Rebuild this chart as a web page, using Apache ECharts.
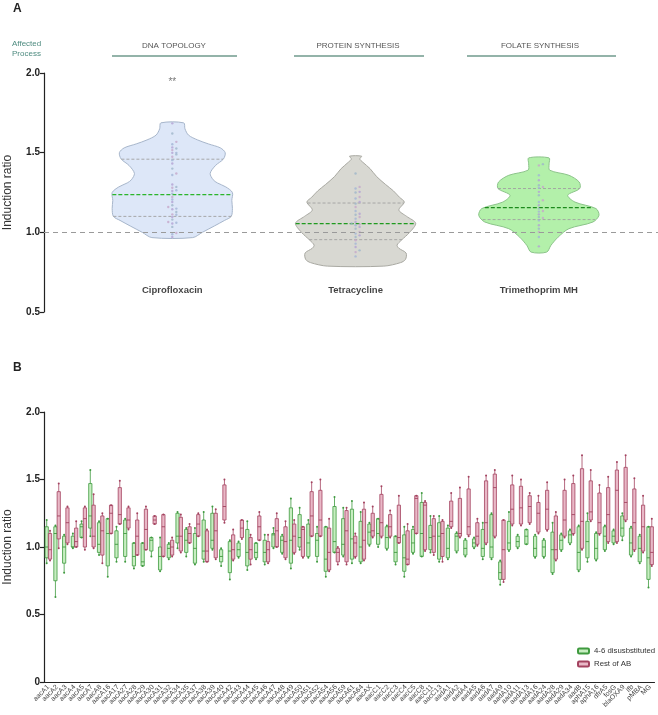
<!DOCTYPE html>
<html><head><meta charset="utf-8">
<script src="https://cdn.jsdelivr.net/npm/echarts@6/dist/echarts.min.js"></script>
<style>html,body{margin:0;padding:0;background:#fff}#c{width:658px;height:715px}</style>
</head><body><div id="c"></div>
<script>
// ---------- Panel A data ----------
const violinNames = ['Ciprofloxacin', 'Tetracycline', 'Trimethoprim MH'];
const processNames = ['DNA TOPOLOGY', 'PROTEIN SYNTHESIS', 'FOLATE SYNTHESIS'];
const significance = ['**', '', ''];
// [lower quartile, median, upper quartile]
const violinQuartiles = [[1.10, 1.237, 1.459], [0.954, 1.055, 1.184], [1.08, 1.155, 1.275]];
// density profiles: [value, relative density]
const ciproDensity = [[0.967,0.34],[1.0,0.5],[1.04,0.7],[1.075,0.87],[1.1,0.98],[1.15,1.0],[1.2,0.99],[1.25,1.0],[1.285,0.89],[1.31,0.75],[1.33,0.68],[1.37,0.63],[1.42,0.72],[1.46,0.85],[1.5,0.88],[1.53,0.8],[1.555,0.6],[1.58,0.42],[1.61,0.27],[1.65,0.21],[1.687,0.19]];
const tetraDensity = [[0.788,0.47],[0.81,0.75],[0.83,0.83],[0.87,0.84],[0.9,0.72],[0.92,0.69],[0.95,0.76],[1.0,0.9],[1.057,1.0],[1.1,0.85],[1.14,0.72],[1.19,0.81],[1.22,0.73],[1.26,0.63],[1.3,0.5],[1.35,0.35],[1.4,0.24],[1.44,0.12],[1.46,0.07],[1.478,0.1]];
const trimDensity = [[0.876,0.13],[0.918,0.2],[0.97,0.32],[1.023,0.5],[1.065,0.9],[1.107,1.0],[1.149,0.95],[1.19,0.6],[1.233,0.48],[1.275,0.68],[1.316,0.67],[1.358,0.5],[1.39,0.18],[1.43,0.17],[1.467,0.17]];
const ciproPoints = [1.684,1.62,1.568,1.553,1.533,1.526,1.516,1.499,1.499,1.489,1.474,1.453,1.432,1.40,1.369,1.36,1.30,1.285,1.28,1.264,1.26,1.243,1.222,1.206,1.19,1.17,1.159,1.149,1.145,1.128,1.113,1.11,1.096,1.08,1.065,1.06,1.055,1.034,0.996,0.988,0.971];
const tetraPoints = [1.369,1.285,1.275,1.254,1.25,1.222,1.212,1.19,1.18,1.159,1.134,1.117,1.11,1.096,1.086,1.065,1.055,1.05,1.044,1.034,1.023,1.002,0.992,0.981,0.971,0.95,0.929,0.908,0.887,0.876,0.849];
const trimPoints = [1.428,1.42,1.358,1.327,1.296,1.285,1.28,1.254,1.233,1.201,1.19,1.17,1.149,1.134,1.13,1.113,1.096,1.09,1.075,1.044,1.023,1.002,0.971,0.912];

// ---------- Panel B data ----------
const categories = ['aacA1','aacA2','aacA3','aacA4','aacA5','aacA7','aacA8','aacA16','aacA17','aacA27','aacA28','aacA29','aacA30','aacA31','aacA32','aacA34','aacA35','aacA37','aacA38','aacA39','aacA40','aacA42','aacA43','aacA44','aacA45','aacA46','aacA47','aacA48','aacA49','aacA50','aacA51','aacA52','aacA54','aacA56','aacA59','aacA61','aacA64','aacAX','aacC1','aacC2','aacC3','aacC4','aacC5','aacC8','aacC11','aacC13','aadA1','aadA2','aadA4','aadA5','aadA6','aadA7','aadA9','aadA10','aadA11','aadA13','aadA16','aadA24','aadA28','aadA29','aadA34','aadB','aphA15','aphA16','dfrA5','fosG','blaOXA9','lfb','pMBA','MG'];
const seriesNames = ['4-6 disusbstituted', 'Rest of AB'];
// [min, q1, median, q3, max]
const greenBoxes = [
[0.88,0.92,1.0,1.15,1.2],[0.63,0.75,1.1,1.15,1.16],[0.81,0.88,1.0,1.08,1.09],[0.99,1.0,1.0,1.08,1.1],[1.07,1.07,1.15,1.17,1.19],
[1.08,1.14,1.23,1.47,1.57],[0.94,0.96,1.02,1.18,1.19],[0.78,0.86,1.1,1.21,1.21],[0.89,0.92,1.02,1.12,1.15],[0.89,0.93,1.1,1.2,1.21],
[0.84,0.86,0.93,1.03,1.03],[0.86,0.86,0.89,1.03,1.03],[0.93,0.97,1.05,1.07,1.07],[0.82,0.83,0.93,1.0,1.07],[0.91,0.92,0.99,1.02,1.03],
[0.99,1.03,1.08,1.25,1.26],[0.93,0.96,1.05,1.13,1.14],[0.87,0.88,0.99,1.1,1.14],[0.89,0.91,0.97,1.2,1.26],[0.98,0.99,1.05,1.25,1.3],
[0.86,0.89,0.93,0.98,0.99],[0.76,0.81,0.97,1.04,1.05],[0.92,0.93,0.98,1.03,1.04],[0.83,0.86,0.96,1.13,1.19],[0.91,0.92,0.96,1.03,1.03],
[0.87,0.89,0.96,1.05,1.09],[0.99,1.0,1.09,1.1,1.14],[0.95,0.96,1.05,1.08,1.09],[0.84,0.88,1.05,1.29,1.36],[0.98,1.0,1.07,1.24,1.29],
[0.92,0.93,1.03,1.17,1.2],[0.89,0.93,1.05,1.1,1.15],[0.78,0.82,0.91,1.15,1.15],[0.96,0.96,1.04,1.3,1.37],[0.93,0.94,1.02,1.21,1.29],
[0.88,0.91,1.06,1.28,1.34],[0.88,0.89,1.0,1.19,1.26],[1.01,1.02,1.11,1.17,1.18],[1.0,1.02,1.1,1.21,1.21],[0.98,0.99,1.07,1.15,1.16],
[0.87,0.89,0.96,1.08,1.08],[0.78,0.82,0.92,1.09,1.15],[0.95,0.96,1.03,1.13,1.15],[0.93,0.93,1.1,1.33,1.4],[0.96,0.98,1.07,1.16,1.23],
[0.89,0.91,1.08,1.18,1.23],[0.91,0.92,0.99,1.14,1.16],[0.96,0.97,1.08,1.1,1.11],[0.93,0.94,0.99,1.05,1.06],[0.99,1.0,1.03,1.06,1.07],
[0.91,0.93,0.99,1.13,1.18],[0.91,0.92,1.0,1.24,1.25],[0.72,0.76,0.81,0.89,0.9],[0.97,0.98,1.03,1.19,1.26],[0.99,1.0,1.04,1.08,1.09],
[1.02,1.02,1.08,1.13,1.13],[0.92,0.93,0.99,1.08,1.09],[0.92,0.93,1.0,1.05,1.06],[0.8,0.81,0.98,1.11,1.18],[0.97,0.98,1.05,1.09,1.1],
[1.02,1.03,1.09,1.12,1.13],[0.82,0.83,0.96,1.15,1.16],[0.89,0.92,1.04,1.19,1.25],[0.9,0.91,0.99,1.1,1.11],[0.97,0.98,1.08,1.15,1.16],
[1.02,1.03,1.08,1.12,1.13],[1.05,1.08,1.14,1.23,1.25],[0.93,0.94,1.03,1.14,1.15],[0.88,0.89,0.99,1.08,1.09],[0.7,0.76,0.92,1.15,1.15]];
const pinkBoxes = [
[0.9,0.91,0.98,1.1,1.12],[0.99,1.06,1.23,1.41,1.47],[1.02,1.03,1.18,1.29,1.3],[1.0,1.0,1.04,1.14,1.19],[0.98,1.0,1.21,1.29,1.3],
[0.99,1.0,1.08,1.31,1.39],[0.88,0.94,1.12,1.23,1.25],[1.1,1.1,1.25,1.31,1.31],[1.17,1.17,1.24,1.44,1.49],[1.13,1.14,1.2,1.29,1.3],
[0.94,0.94,1.08,1.2,1.25],[0.98,0.98,1.13,1.28,1.3],[1.17,1.17,1.2,1.23,1.23],[0.93,0.93,1.15,1.24,1.24],[0.93,0.94,1.0,1.05,1.07],
[0.96,0.97,1.08,1.22,1.24],[1.03,1.03,1.1,1.15,1.17],[1.08,1.08,1.17,1.24,1.25],[0.89,0.89,0.97,1.12,1.13],[0.91,0.92,1.12,1.25,1.28],
[1.18,1.2,1.3,1.46,1.5],[0.9,0.91,0.98,1.09,1.13],[1.06,1.07,1.14,1.2,1.2],[0.87,0.91,0.98,1.07,1.09],[1.05,1.05,1.15,1.23,1.26],
[0.88,0.89,0.98,1.04,1.09],[1.0,1.0,1.12,1.21,1.25],[0.91,0.92,1.04,1.15,1.19],[0.95,0.96,1.08,1.17,1.2],[0.92,0.93,1.13,1.15,1.15],
[1.08,1.08,1.23,1.41,1.48],[1.08,1.08,1.2,1.42,1.5],[0.82,0.83,0.96,1.14,1.21],[0.87,0.89,0.96,0.99,1.0],[0.87,0.89,1.12,1.27,1.29],
[0.92,0.93,1.03,1.08,1.1],[0.9,0.91,1.05,1.28,1.33],[1.07,1.08,1.12,1.25,1.3],[1.07,1.08,1.18,1.39,1.45],[1.07,1.08,1.15,1.24,1.27],
[1.03,1.03,1.07,1.31,1.38],[0.87,0.87,0.91,1.12,1.17],[1.1,1.1,1.36,1.38,1.38],[0.97,0.98,1.31,1.33,1.34],[0.94,0.96,1.08,1.21,1.23],
[0.89,0.93,1.1,1.19,1.2],[1.14,1.15,1.19,1.34,1.4],[1.07,1.08,1.1,1.36,1.44],[1.08,1.09,1.15,1.43,1.52],[1.01,1.02,1.08,1.18,1.21],
[1.02,1.03,1.18,1.49,1.53],[1.07,1.08,1.44,1.54,1.57],[0.74,0.76,0.98,1.2,1.2],[1.16,1.17,1.28,1.46,1.53],[1.16,1.17,1.29,1.45,1.5],
[1.17,1.18,1.3,1.38,1.4],[1.1,1.11,1.25,1.33,1.38],[1.12,1.13,1.28,1.42,1.48],[0.9,0.91,0.98,1.23,1.26],[1.07,1.08,1.2,1.42,1.5],
[1.09,1.1,1.24,1.47,1.53],[0.98,0.99,1.19,1.58,1.68],[1.19,1.2,1.26,1.49,1.57],[1.09,1.1,1.18,1.4,1.46],[1.03,1.04,1.24,1.44,1.52],
[1.03,1.04,1.42,1.57,1.63],[1.19,1.2,1.33,1.59,1.68],[0.97,0.98,1.18,1.43,1.51],[0.96,0.97,1.15,1.31,1.38],[0.86,0.87,0.96,1.15,1.21]];

// ---------- styling ----------
const FONT = 'Liberation Sans, Arial, sans-serif';
const violinFill = ['#dde7f8', '#d8d8d2', '#b3f0aa'];
const violinStroke = ['#a7b6cb', '#a9a9a2', '#8cc48a'];
const medianColor = ['#2bb52b', '#1f9a1f', '#1d8a1d'];
const dotColors = ['#b3a3d3', '#a3b5d6', '#c6a7c9', '#9fb7c9'];
const VIOLIN_HALF = 0.328;
const green = { fill: '#c7eec1', stroke: '#3f9a3f' };
const pink = { fill: '#e9b8c7', stroke: '#a3425f' };

const profiles = [ciproDensity, tetraDensity, trimDensity];
const pointSets = [ciproPoints, tetraPoints, trimPoints];

function densityAt(prof, v) {
  for (let k = 0; k < prof.length - 1; k++) {
    const a = prof[k], b = prof[k + 1];
    if (v >= a[0] && v <= b[0]) return a[1] + (b[1] - a[1]) * (v - a[0]) / (b[0] - a[0]);
  }
  return 0;
}

function violinRender(params, api) {
  const i = params.dataIndex;
  const pos = api.value(0);
  const prof = profiles[i];
  const half = api.size([VIOLIN_HALF, 0])[0];
  const right = [], left = [];
  prof.forEach(([v, d]) => {
    const p = api.coord([pos, v]);
    right.push([p[0] + d * half, p[1]]);
    left.unshift([p[0] - d * half, p[1]]);
  });
  const children = [{
    type: 'polygon', shape: { points: right.concat(left), smooth: 0.3 },
    style: { fill: violinFill[i], stroke: violinStroke[i], lineWidth: 1 }
  }];
  violinQuartiles[i].forEach((q, k) => {
    const p = api.coord([pos, q]);
    const d = densityAt(prof, q) * half;
    children.push({
      type: 'line', shape: { x1: p[0] - d, y1: p[1], x2: p[0] + d, y2: p[1] },
      style: { stroke: k === 1 ? medianColor[i] : '#a0a0a0', lineWidth: k === 1 ? 1.3 : 0.9, lineDash: k === 1 ? [4, 2] : [3, 2] }
    });
  });
  return { type: 'group', children };
}

// beeswarm placement of violin points
const dotData = [];
pointSets.forEach((vals, i) => {
  const sorted = vals.slice().sort((a, b) => a - b);
  let rowStart = null, k = 0;
  sorted.forEach(v => {
    if (rowStart === null || v - rowStart > 0.016) { rowStart = v; k = 0; } else { k++; }
    const off = (k === 0 ? 0 : (k % 2 ? 1 : -1) * Math.ceil(k / 2)) * 0.022;
    dotData.push({ value: [i + 1 + off, v], itemStyle: { color: dotColors[(dotData.length) % dotColors.length] } });
  });
});

function makeBoxRender(side, col) {
  return function (params, api) {
    const idx = api.value(0);
    const band = api.size([1, 0])[0];
    const cx = api.coord([idx, 1])[0] + side * band * 0.19;
    const w = band * 0.37;
    const y = k => api.coord([idx, api.value(k)])[1];
    const yMin = y(1), yQ1 = y(2), yMed = y(3), yQ3 = y(4), yMax = y(5);
    return {
      type: 'group', children: [
        { type: 'line', shape: { x1: cx, y1: yMin, x2: cx, y2: yMax }, style: { stroke: col.stroke, lineWidth: 0.8 } },
        { type: 'rect', shape: { x: cx - w / 2, y: yQ3, width: w, height: Math.max(1, yQ1 - yQ3) }, style: { fill: col.fill, stroke: col.stroke, lineWidth: 0.8 } },
        { type: 'line', shape: { x1: cx - w / 2, y1: yMed, x2: cx + w / 2, y2: yMed }, style: { stroke: col.stroke, lineWidth: 0.9 } },
        { type: 'circle', shape: { cx: cx, cy: yMin, r: 1 }, style: { fill: col.stroke } },
        { type: 'circle', shape: { cx: cx, cy: yMax, r: 1 }, style: { fill: col.stroke } }
      ]
    };
  };
}

const chart = echarts.init(document.getElementById('c'), null, { renderer: 'canvas' });

const yAxisCommon = {
  type: 'value', interval: 0.5,
  axisLine: { show: true, lineStyle: { color: '#222', width: 1.2 } },
  axisTick: { show: true, length: 4, lineStyle: { color: '#222', width: 1.2 } },
  splitLine: { show: false },
  axisLabel: { color: '#222', fontSize: 10, fontWeight: 'bold', fontFamily: FONT, margin: 4 },
  name: 'Induction ratio', nameLocation: 'middle', nameRotate: 90, nameGap: 30,
  nameTextStyle: { color: '#333', fontSize: 12, fontFamily: FONT }
};

const option = {
  backgroundColor: '#fff',
  animation: false,
  textStyle: { fontFamily: FONT },
  grid: [
    { left: 44, right: 0, top: 73, height: 239, outerBoundsMode: 'none' },
    { left: 44, right: 3.5, top: 412, height: 270, outerBoundsMode: 'none' }
  ],
  xAxis: [
    { gridIndex: 0, type: 'value', min: 0.3, max: 3.65, show: false },
    {
      gridIndex: 1, type: 'category', data: categories,
      axisLine: { lineStyle: { color: '#222', width: 1.2 } },
      axisTick: { alignWithLabel: true, length: 4, lineStyle: { color: '#222' } },
      axisLabel: { interval: 0, rotate: 45, fontSize: 7, color: '#444', margin: 4, hideOverlap: false, fontFamily: FONT }
    }
  ],
  yAxis: [
    Object.assign({}, yAxisCommon, { gridIndex: 0, min: 0.5, max: 2.0, axisLabel: Object.assign({}, yAxisCommon.axisLabel, { formatter: v => v.toFixed(1) }) }),
    Object.assign({}, yAxisCommon, { gridIndex: 1, min: 0, max: 2.0, axisLabel: Object.assign({}, yAxisCommon.axisLabel, { formatter: v => v === 0 ? '0' : v.toFixed(1) }) })
  ],
  legend: {
    data: seriesNames, orient: 'vertical', left: 572, top: 642, itemGap: 5,
    itemWidth: 11, itemHeight: 5, icon: 'roundRect',
    textStyle: { fontSize: 7.8, color: '#333', fontFamily: FONT }
  },
  graphic: [
    { type: 'text', left: 13, top: 3, style: { text: 'A', fontSize: 12, fontWeight: 'bold', fill: '#222', fontFamily: FONT } },
    { type: 'text', left: 13, top: 362, style: { text: 'B', fontSize: 12, fontWeight: 'bold', fill: '#222', fontFamily: FONT } },
    { type: 'text', left: 12, top: 39, style: { text: 'Affected\nProcess', fontSize: 8, lineHeight: 10, fill: '#4f8c80', fontFamily: FONT } },
    { type: 'text', x: 174, y: 46, style: { text: processNames[0], fontSize: 8, fill: '#555', align: 'center', verticalAlign: 'middle', fontFamily: FONT } },
    { type: 'text', x: 358, y: 46, style: { text: processNames[1], fontSize: 8, fill: '#555', align: 'center', verticalAlign: 'middle', fontFamily: FONT } },
    { type: 'text', x: 540, y: 46, style: { text: processNames[2], fontSize: 8, fill: '#555', align: 'center', verticalAlign: 'middle', fontFamily: FONT } },
    { type: 'line', shape: { x1: 112, y1: 56, x2: 237, y2: 56 }, style: { stroke: '#6f9a8c', lineWidth: 1.3 } },
    { type: 'line', shape: { x1: 294, y1: 56, x2: 424, y2: 56 }, style: { stroke: '#6f9a8c', lineWidth: 1.3 } },
    { type: 'line', shape: { x1: 467, y1: 56, x2: 616, y2: 56 }, style: { stroke: '#6f9a8c', lineWidth: 1.3 } }
  ],
  series: [
    {
      type: 'line', xAxisIndex: 0, yAxisIndex: 0, data: [], z: 1, silent: true,
      markLine: { silent: true, symbol: 'none', label: { show: false }, data: [{ yAxis: 1.0 }],
        lineStyle: { type: [5, 4], color: '#9a9a9a', width: 1.2 } }
    },
    {
      type: 'custom', xAxisIndex: 0, yAxisIndex: 0, z: 3,
      data: violinNames.map((n, i) => [i + 1, violinQuartiles[i][1]]),
      encode: { x: 0, y: 1 }, renderItem: violinRender, clip: false
    },
    {
      type: 'scatter', xAxisIndex: 0, yAxisIndex: 0, z: 4, symbolSize: 2.4, data: dotData, silent: true
    },
    {
      type: 'scatter', xAxisIndex: 0, yAxisIndex: 0, z: 5, symbolSize: 0, silent: true,
      data: violinNames.map((n, i) => [i + 1, 0.635]),
      label: { show: true, position: 'inside', formatter: p => violinNames[p.dataIndex], fontSize: 9.5, fontWeight: 'bold', color: '#111', fontFamily: FONT }
    },
    {
      type: 'scatter', xAxisIndex: 0, yAxisIndex: 0, z: 5, symbolSize: 0, silent: true,
      data: violinNames.map((n, i) => [i + 1, 1.943]),
      label: { show: true, position: 'inside', formatter: p => significance[p.dataIndex], fontSize: 10, color: '#555', fontFamily: FONT }
    },
    {
      name: seriesNames[0], type: 'custom', xAxisIndex: 1, yAxisIndex: 1, z: 3,
      itemStyle: { color: green.fill, borderColor: green.stroke, borderWidth: 1 },
      data: greenBoxes.map((b, i) => [i].concat(b)), encode: { x: 0, y: [1, 2, 3, 4, 5] },
      renderItem: makeBoxRender(-1, green)
    },
    {
      name: seriesNames[1], type: 'custom', xAxisIndex: 1, yAxisIndex: 1, z: 4,
      itemStyle: { color: pink.fill, borderColor: pink.stroke, borderWidth: 1 },
      data: pinkBoxes.map((b, i) => [i].concat(b)), encode: { x: 0, y: [1, 2, 3, 4, 5] },
      renderItem: makeBoxRender(1, pink)
    }
  ]
};
chart.setOption(option);
</script>
</body></html>
